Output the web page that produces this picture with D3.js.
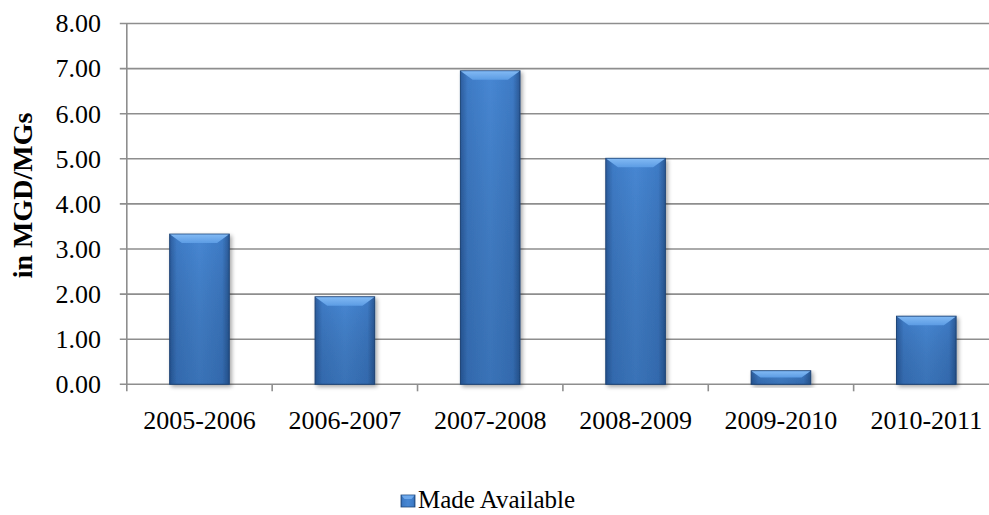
<!DOCTYPE html>
<html>
<head>
<meta charset="utf-8">
<script src="https://cdn.jsdelivr.net/npm/d3@7/dist/d3.min.js"></script>
<style>
  html, body { margin: 0; padding: 0; background: #fff; }
  svg text { font-family: "Liberation Serif", "Times New Roman", serif; fill: #000; }
</style>
</head>
<body>
<svg id="chart" width="989" height="515"></svg>
<script>
// Water made available per fiscal year (MGD/MGs)
const categories = ["2005-2006", "2006-2007", "2007-2008", "2008-2009", "2009-2010", "2010-2011"];
const madeAvailable = [3.33, 1.94, 6.95, 5.01, 0.30, 1.51];
const yTicks = [0, 1, 2, 3, 4, 5, 6, 7, 8];
const seriesName = "Made Available";
const axisTitle = "in MGD/MGs";

const svg = d3.select("#chart");
const margin = { left: 126.8, right: -10, top: 23.5, bottom: 130.7 };
const W = 989, H = 515;

const x = d3.scaleBand()
  .domain(categories)
  .range([margin.left, W - margin.right])
  .paddingInner(0.59)
  .paddingOuter(0.295);

const y = d3.scaleLinear()
  .domain([0, 8])
  .range([H - margin.bottom, margin.top]);

const defs = svg.append("defs");

// horizontal body shading of each bar
const body = defs.append("linearGradient").attr("id", "barBody")
  .attr("x1", "0").attr("x2", "1").attr("y1", "0").attr("y2", "0");
body.append("stop").attr("offset", "0").attr("stop-color", "#2c5d9e");
body.append("stop").attr("offset", "0.12").attr("stop-color", "#3e7bc6");
body.append("stop").attr("offset", "0.5").attr("stop-color", "#4787d3");
body.append("stop").attr("offset", "0.88").attr("stop-color", "#3e7bc6");
body.append("stop").attr("offset", "1").attr("stop-color", "#2a5996");

const vshade = defs.append("linearGradient").attr("id", "barV")
  .attr("x1", "0").attr("x2", "0").attr("y1", "0").attr("y2", "1");
vshade.append("stop").attr("offset", "0").attr("stop-color", "#000").attr("stop-opacity", 0);
vshade.append("stop").attr("offset", "1").attr("stop-color", "#0a2a55").attr("stop-opacity", 0.22);

const bevel = defs.append("linearGradient").attr("id", "barTop")
  .attr("x1", "0").attr("x2", "0").attr("y1", "0").attr("y2", "1");
bevel.append("stop").attr("offset", "0").attr("stop-color", "#80b8f3");
bevel.append("stop").attr("offset", "1").attr("stop-color", "#5c9ce4");

const shadow = defs.append("filter").attr("id", "shadow")
  .attr("x", "-20%").attr("y", "-20%").attr("width", "140%").attr("height", "140%");
shadow.append("feGaussianBlur").attr("in", "SourceAlpha").attr("stdDeviation", 2.2).attr("result", "b");
shadow.append("feOffset").attr("dx", 2).attr("dy", 2).attr("result", "o");
shadow.append("feComponentTransfer").append("feFuncA").attr("type", "linear").attr("slope", 0.35);
const merge = shadow.append("feMerge");
merge.append("feMergeNode");
merge.append("feMergeNode").attr("in", "SourceGraphic");

// gridlines
svg.append("g")
  .selectAll("line")
  .data(yTicks)
  .join("line")
  .attr("x1", margin.left - 7)
  .attr("x2", W)
  .attr("y1", d => y(d))
  .attr("y2", d => y(d))
  .attr("stroke", "#8e8e8e")
  .attr("stroke-width", 1.6);

// y axis line
svg.append("line")
  .attr("x1", margin.left).attr("x2", margin.left)
  .attr("y1", y(8)).attr("y2", y(0))
  .attr("stroke", "#8e8e8e").attr("stroke-width", 1.6);

// x axis category boundary ticks
const step = x.step();
const boundaries = d3.range(categories.length + 1).map(i => margin.left + i * step);
svg.append("g")
  .selectAll("line")
  .data(boundaries)
  .join("line")
  .attr("x1", d => d).attr("x2", d => d)
  .attr("y1", y(0)).attr("y2", y(0) + 7)
  .attr("stroke", "#8e8e8e").attr("stroke-width", 1.6);

// y tick labels
svg.append("g")
  .selectAll("text")
  .data(yTicks)
  .join("text")
  .attr("x", 101)
  .attr("y", d => y(d))
  .attr("dy", "0.34em")
  .attr("text-anchor", "end")
  .attr("font-size", 26)
  .text(d => d.toFixed(2));

// axis title
svg.append("text")
  .attr("transform", `translate(32,195.5) rotate(-90)`)
  .attr("text-anchor", "middle")
  .attr("font-size", 28)
  .attr("font-weight", "bold")
  .text(axisTitle);

// bars
const bars = svg.append("g")
  .selectAll("g")
  .data(categories.map((c, i) => ({ c, v: madeAvailable[i] })))
  .join("g")
  .attr("filter", "url(#shadow)");

bars.append("rect")
  .attr("x", d => x(d.c))
  .attr("y", d => y(d.v))
  .attr("width", x.bandwidth())
  .attr("height", d => y(0) - y(d.v))
  .attr("fill", "url(#barBody)")
  .attr("stroke", "#1f4679")
  .attr("stroke-width", 1);

bars.append("rect")
  .attr("x", d => x(d.c))
  .attr("y", d => y(d.v))
  .attr("width", x.bandwidth())
  .attr("height", d => y(0) - y(d.v))
  .attr("fill", "url(#barV)");

bars.append("path")
  .attr("d", d => {
    const x0 = x(d.c), x1 = x0 + x.bandwidth(), t = y(d.v);
    const h = Math.min(9, (y(0) - t) / 2);
    return `M${x0 + 0.5},${t + 0.5} L${x1 - 0.5},${t + 0.5} L${x1 - 0.5 - h * 1.3},${t + h} L${x0 + 0.5 + h * 1.3},${t + h} Z`;
  })
  .attr("fill", "url(#barTop)");

// category labels
svg.append("g")
  .selectAll("text")
  .data(categories)
  .join("text")
  .attr("x", d => x(d) + x.bandwidth() / 2)
  .attr("y", 429)
  .attr("text-anchor", "middle")
  .attr("font-size", 26)
  .text(d => d);

// legend
const lg = svg.append("g");
lg.append("rect")
  .attr("x", 401).attr("y", 495).attr("width", 14).attr("height", 12)
  .attr("fill", "url(#barBody)").attr("stroke", "#1f4679").attr("stroke-width", 0.8);
lg.append("path")
  .attr("d", "M401.5,495.5 L414.5,495.5 L411.5,499 L404.5,499 Z")
  .attr("fill", "#6ea9ec");
lg.append("text")
  .attr("x", 418).attr("y", 508)
  .attr("font-size", 25)
  .text(seriesName);
</script>
</body>
</html>
